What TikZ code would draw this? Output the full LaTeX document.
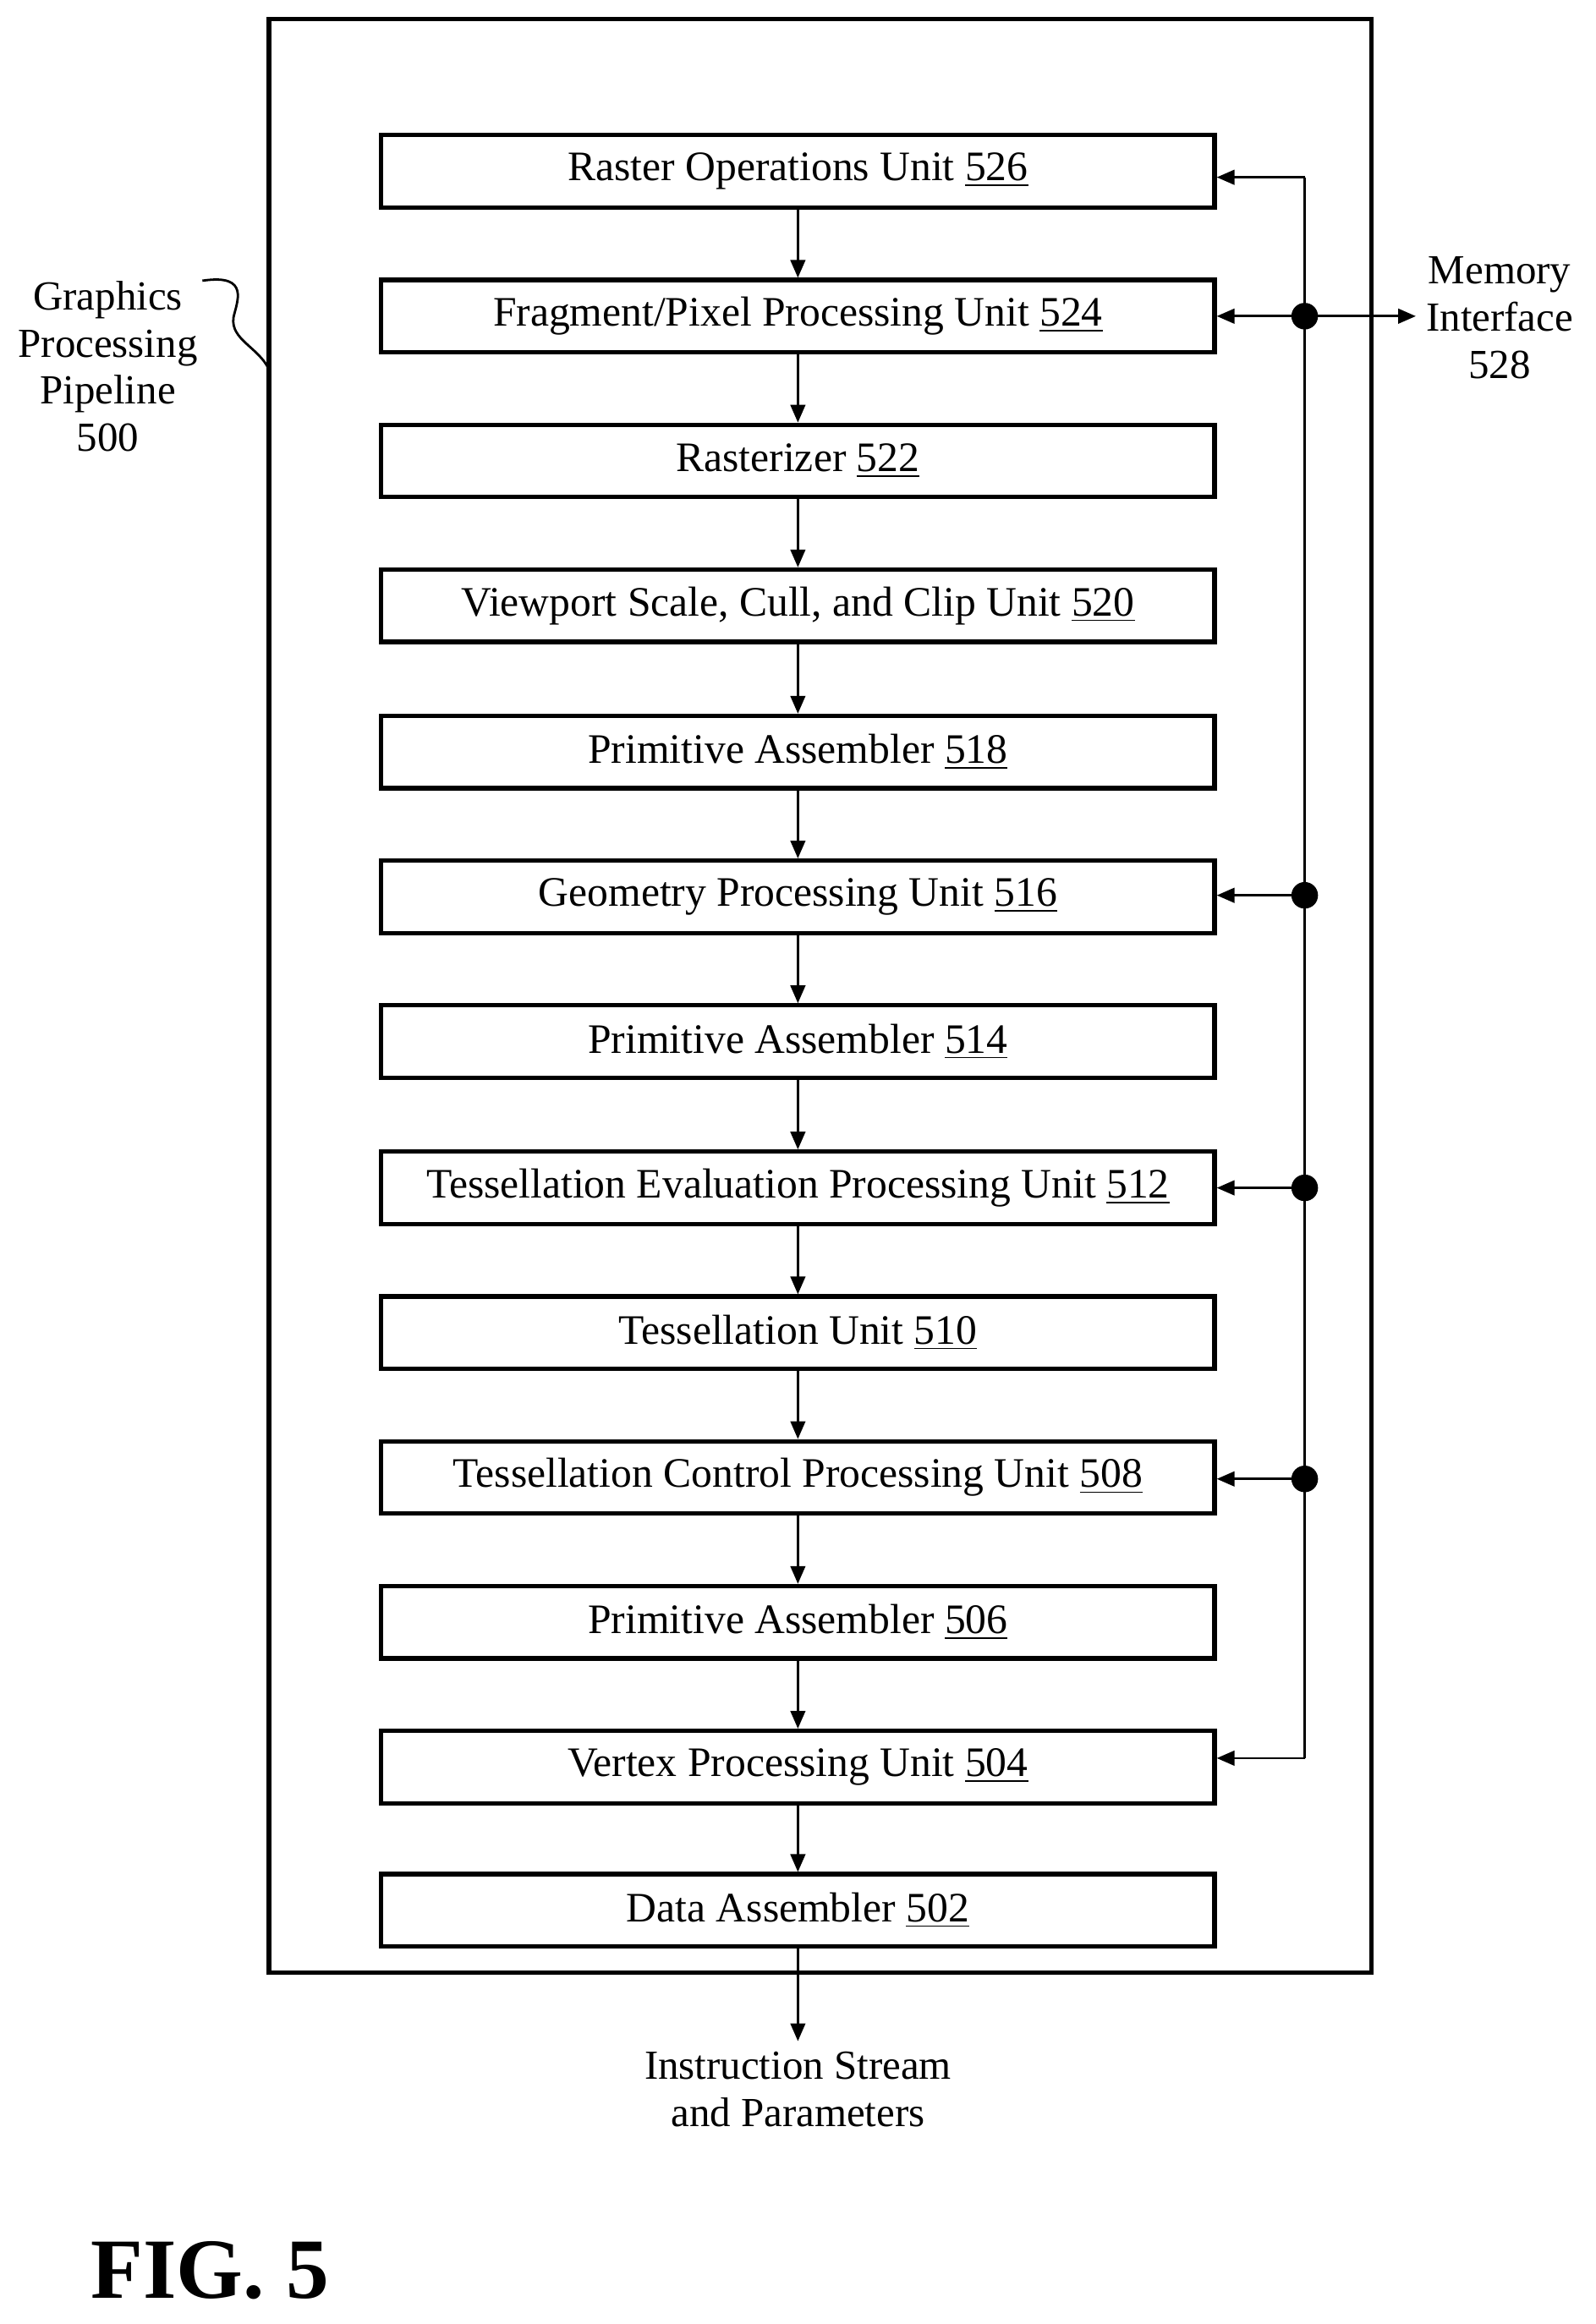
\documentclass[tikz,border=0pt]{standalone}
\usepackage{fontspec}
\setmainfont{Liberation Serif}
\usetikzlibrary{arrows.meta}
\begin{document}
\begin{tikzpicture}[x=0.5pt,y=-0.5pt,align=center]
\tikzstyle{unit}=[draw=black,line width=1.5pt,minimum width=282pt,minimum height=24.5pt,inner sep=0pt,font=\fontsize{14.2}{17}\selectfont]
\tikzstyle{flow}=[->,>={Triangle[length=6pt,width=5pt]},line width=0.8pt]
\tikzstyle{lbl}=[font=\fontsize{14}{17}\selectfont]
\useasboundingbox (0,0) rectangle (1080,1573);

\draw[line width=1.5pt] (182,13) rectangle (928,1335);

\foreach \name/\txt/\num/\y in {u526/Raster Operations Unit/526/116,
  u524/Fragment\slash Pixel Processing Unit/524/214,
  u522/Rasterizer/522/312,
  u520/{Viewport Scale, Cull, and Clip Unit}/520/410,
  u518/Primitive Assembler/518/509,
  u516/Geometry Processing Unit/516/607,
  u514/Primitive Assembler/514/705,
  u512/Tessellation Evaluation Processing Unit/512/804,
  u510/Tessellation Unit/510/902,
  u508/Tessellation Control Processing Unit/508/1000,
  u506/Primitive Assembler/506/1098,
  u504/Vertex Processing Unit/504/1196,
  u502/Data Assembler/502/1293}
  \node[unit] (\name) at (540,\y) {\txt{} \underline{\num}};

% flow from top to bottom
\foreach \a/\b in {u526/u524,u524/u522,u522/u520,u520/u518,u518/u516,u516/u514,
  u514/u512,u512/u510,u510/u508,u508/u506,u506/u504,u504/u502}
  \draw[flow] (\a.south) -- (\b.north);

% memory bus
\coordinate (busT) at (883,120);
\coordinate (busB) at (883,1190);
\coordinate (d524) at (883,214);
\coordinate (d516) at (883,606);
\coordinate (d512) at (883,804);
\coordinate (d508) at (883,1001);
\node[lbl] (mem) at (1015,215) {Memory\\[-1pt]Interface\\[-1pt]528};
\draw[line width=0.8pt] (busT) -- (busB);
\draw[flow] (busT) -- (u526.east |- busT);
\draw[flow] (busB) -- (u504.east |- busB);
\foreach \d/\u in {d524/u524,d516/u516,d512/u512,d508/u508}{
  \draw[flow] (\d) -- (\u.east |- \d);
  \fill (\d) circle (9);
}
\draw[flow] (d524) -- (mem.west |- d524);

% output
\node[lbl] (out) at (540,1414) {Instruction Stream\\[-1pt]and Parameters};
\draw[flow] (u502.south) -- (u502.south |- out.north);

% pipeline label
\node[lbl] (gpp) at (73,248) {Graphics\\[-1pt]Processing\\[-1pt]Pipeline\\[-1pt]500};
\draw[line width=0.8pt] (137,190) .. controls (170,185) and (160,205) .. (158,215)
  .. controls (156,230) and (175,235) .. (182,250);

\node[font=\fontsize{29}{34}\selectfont\bfseries] (fig) at (142,1537) {FIG. 5};
\end{tikzpicture}
\end{document}
